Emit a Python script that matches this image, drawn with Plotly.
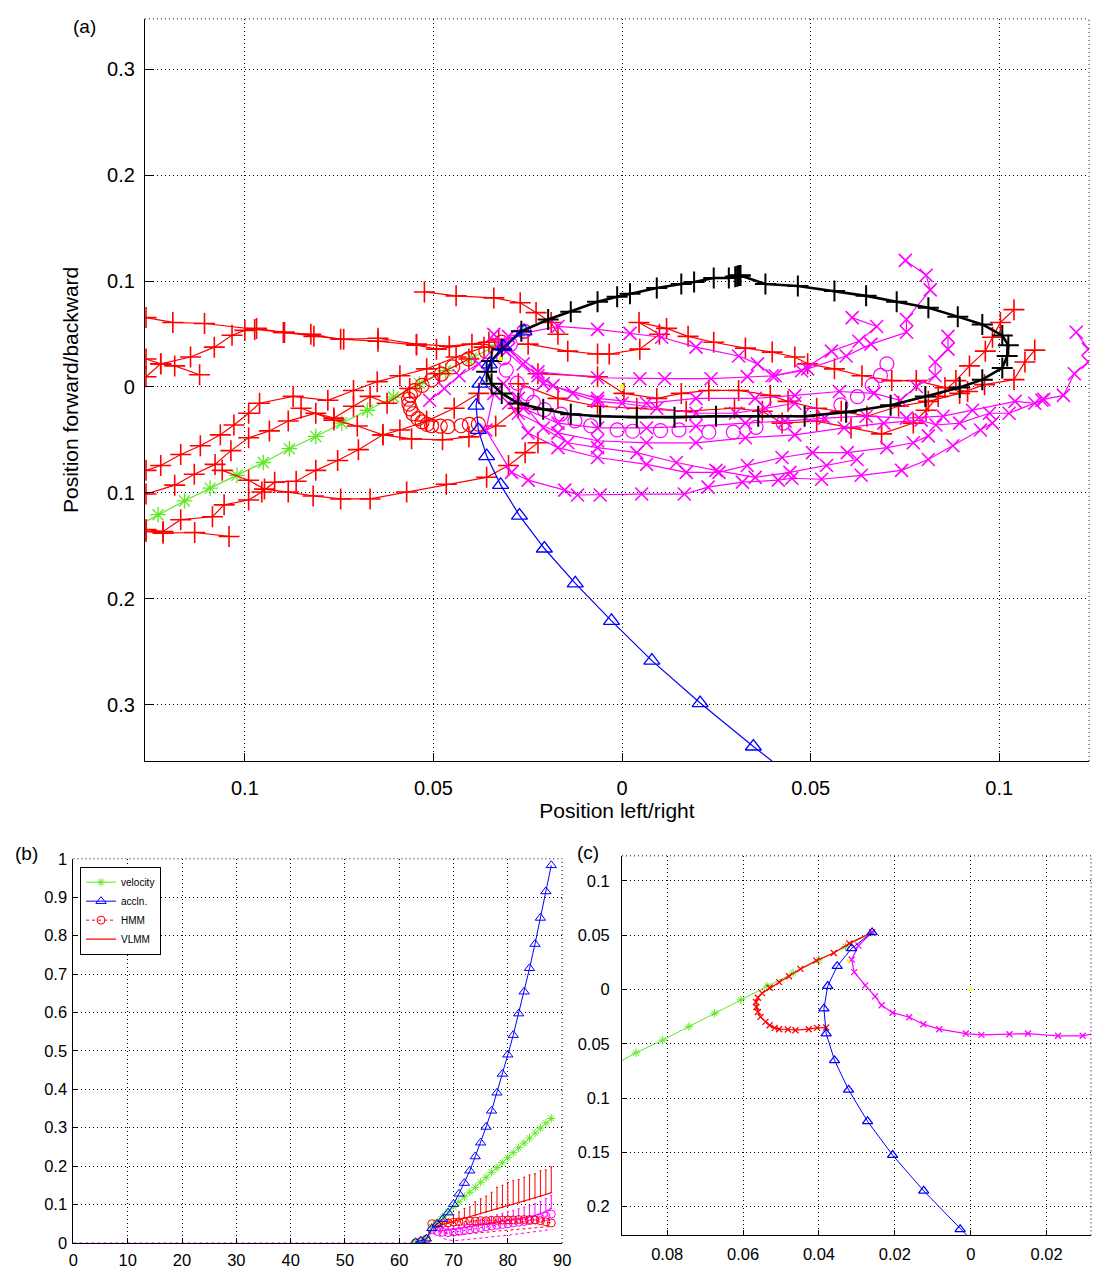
import plotly.graph_objects as go

# ---------------- shared trajectory data (panels a and c), data units ----------------
vel_x = [-0.1283, -0.1230, -0.1160, -0.1092, -0.1021, -0.0951, -0.0882, -0.0812, -0.0743,
         -0.0675, -0.0606, -0.0537, -0.0468, -0.0400, -0.0330, -0.0260]
vel_y = [-0.1309, -0.1206, -0.1076, -0.0955, -0.0834, -0.0713, -0.0583, -0.0467, -0.0342,
         -0.0220, -0.0095, 0.0031, 0.0153, 0.0272, 0.0394, 0.0525]

acc_x = [-0.0260, -0.0314, -0.0352, -0.0377, -0.0387, -0.0381, -0.0359, -0.0322, -0.0272,
         -0.0206, -0.0124, -0.0028, 0.0079, 0.0207, 0.0348, 0.0505]
acc_y = [0.0525, 0.0378, 0.0214, 0.0031, -0.0177, -0.0406, -0.0653, -0.0924, -0.1214,
         -0.1525, -0.1854, -0.2208, -0.2584, -0.2984, -0.3394, -0.3830]

hmm_x = [-0.0260, -0.0320, -0.0361, -0.0407, -0.0449, -0.0479, -0.0505, -0.0530, -0.0550,
         -0.0561, -0.0566, -0.0565, -0.0561, -0.0554, -0.0541, -0.0530, -0.0517, -0.0505,
         -0.0482, -0.0462, -0.0427, -0.0405, -0.0381]
hmm_y = [0.0525, 0.0424, 0.0336, 0.0265, 0.0189, 0.0122, 0.0067, 0.0015, -0.0034,
         -0.0076, -0.0116, -0.0162, -0.0207, -0.0253, -0.0299, -0.0329, -0.0354, -0.0366,
         -0.0369, -0.0375, -0.0366, -0.0354, -0.0351]

mag_x = [-0.0260, -0.0296, -0.0314, -0.0307, -0.0278, -0.0252, -0.0235, -0.0206, -0.0162,
         -0.0125, -0.0083, -0.0013, 0.0028, 0.0102, 0.0151, 0.0230, 0.0295, 0.0355, 0.0427,
         0.0505, 0.0580, 0.0624, 0.0663, 0.0685, 0.0702]
mag_y = [0.0525, 0.0403, 0.0275, 0.0159, 0.0037, -0.0064, -0.0146, -0.0214, -0.0256,
         -0.0320, -0.0366, -0.0406, -0.0418, -0.0412, -0.0406, -0.0427, -0.0427, -0.0381,
         -0.0341, -0.0262, -0.0170, -0.0092, 0.0016, 0.0109, 0.0218]

yellow_x = [0.0, -0.0322]
yellow_y = [0.0, 0.0265]

# ---------------- panel (a) only ----------------
black_x = [0.0314, 0.0380, 0.0466, 0.0563, 0.0647, 0.0728, 0.0812, 0.0890, 0.0955, 0.1008,
           0.1024, 0.1021, 0.1008, 0.0955, 0.0895, 0.0804, 0.0712, 0.0594, 0.0484, 0.0361,
           0.0249, 0.0139, 0.0039, -0.0058, -0.0136, -0.0209, -0.0275, -0.0319, -0.0346,
           -0.0359, -0.0346, -0.0319, -0.0267, -0.0196, -0.0136, -0.0065, -0.0013, 0.0021,
           0.0092, 0.0157, 0.0191, 0.0243, 0.0283, 0.0300, 0.0305, 0.0309, 0.0312]
black_y = [0.1052, 0.0972, 0.0953, 0.0906, 0.0860, 0.0804, 0.0748, 0.0664, 0.0590, 0.0487,
           0.0394, 0.0292, 0.0180, 0.0069, -0.0006, -0.0089, -0.0173, -0.0238, -0.0276,
           -0.0276, -0.0276, -0.0285, -0.0285, -0.0276, -0.0257, -0.0210, -0.0155, -0.0061,
           0.0031, 0.0143, 0.0246, 0.0357, 0.0525, 0.0637, 0.0711, 0.0804, 0.0851, 0.0879,
           0.0935, 0.0972, 0.0990, 0.1028, 0.1028, 0.1040, 0.1045, 0.1050, 0.1052]

red_lines_x = [
    [-0.1262, -0.1191, -0.1107, -0.0974, -0.0895, -0.0817, -0.0738, -0.0647, -0.0545, -0.0492, -0.0398, -0.0327],
    [-0.1262, -0.1223, -0.1144, -0.1081, -0.1034, -0.1000, -0.0969, -0.0898, -0.0825, -0.0746, -0.0647, -0.0545, -0.0458, -0.0353],
    [-0.1262, -0.1223, -0.1186, -0.1120],
    [-0.1262, -0.1223, -0.1170, -0.1118, -0.1065, -0.1029, -0.0990, -0.0961, -0.0872, -0.0780, -0.0712, -0.0649, -0.0589, -0.0518, -0.0440, -0.0366],
    [-0.1262, -0.1186, -0.1134, -0.1079, -0.1037, -0.0990, -0.0935, -0.0885, -0.0812, -0.0764, -0.0712, -0.0668, -0.0623, -0.0563, -0.0484, -0.0406],
    [-0.1262, -0.1217, -0.1170, -0.1086, -0.1055, -0.0990, -0.0955, -0.0921, -0.0864, -0.0812, -0.0754, -0.0699, -0.0634, -0.0589, -0.0518, -0.0445, -0.0380],
    [-0.1262, -0.1217, -0.1133, -0.1042],
    [-0.1060, -0.0990, -0.0948, -0.0885, -0.0819, -0.0746, -0.0668, -0.0571, -0.0466, -0.0359, -0.0301, -0.0257, -0.0223],
    [-0.0851, -0.0764, -0.0702, -0.0634, -0.0558, -0.0476, -0.0406, -0.0335, -0.0275],
    [-0.0524, -0.0440, -0.0340, -0.0270, -0.0228, -0.0188, -0.0170],
    [-0.0249, -0.0144, -0.0065, -0.0034, 0.0047, 0.0099, 0.0045, 0.0118, 0.0175, 0.0243, 0.0327, 0.0398, 0.0458, 0.0492, 0.0563, 0.0636, 0.0715, 0.0780, 0.0856, 0.0916],
    [-0.0275, -0.0170, -0.0065, 0.0039, 0.0170, 0.0298, 0.0372, 0.0424, 0.0516, 0.0607, 0.0688, 0.0772, 0.0806, 0.0838, 0.0885, 0.0921, 0.0963, 0.0982, 0.1003, 0.1039],
    [-0.0223, -0.0065, 0.0005, 0.0092, 0.0157, 0.0230, 0.0309, 0.0393, 0.0440, 0.0516, 0.0581, 0.0649, 0.0733, 0.0812, 0.0895, 0.0961, 0.1039, 0.1068, 0.1094],
]
red_lines_y = [
    [0.0655, 0.0609, 0.0599, 0.0543, 0.0515, 0.0478, 0.0450, 0.0432, 0.0395, 0.0357, 0.0404, 0.0450],
    [0.0097, 0.0218, 0.0283, 0.0376, 0.0488, 0.0534, 0.0553, 0.0515, 0.0497, 0.0450, 0.0460, 0.0404, 0.0385, 0.0422],
    [0.0264, 0.0218, 0.0199, 0.0115],
    [-0.0787, -0.0741, -0.0638, -0.0555, -0.0452, -0.0359, -0.0248, -0.0154, -0.0089, -0.0126, -0.0033, 0.0050, 0.0106, 0.0171, 0.0283, 0.0376],
    [-0.1011, -0.0927, -0.0824, -0.0731, -0.0601, -0.0480, -0.0415, -0.0322, -0.0248, -0.0294, -0.0182, -0.0089, -0.0154, -0.0015, 0.0125, 0.0264],
    [-0.1346, -0.1364, -0.1253, -0.1225, -0.1113, -0.1067, -0.0992, -0.0899, -0.0890, -0.0787, -0.0694, -0.0592, -0.0452, -0.0406, -0.0322, -0.0201, -0.0061],
    [-0.1364, -0.1380, -0.1374, -0.1411],
    [-0.0787, -0.0880, -0.0964, -0.0992, -0.1029, -0.1057, -0.1057, -0.0992, -0.0918, -0.0853, -0.0741, -0.0620, -0.0527],
    [-0.0201, -0.0313, -0.0369, -0.0452, -0.0490, -0.0499, -0.0471, -0.0369, -0.0201],
    [0.0897, 0.0860, 0.0841, 0.0795, 0.0702, 0.0609, 0.0497],
    [0.0404, 0.0338, 0.0311, 0.0311, 0.0357, 0.0497, 0.0609, 0.0553, 0.0478, 0.0422, 0.0367, 0.0329, 0.0283, 0.0218, 0.0171, 0.0106, 0.0060, 0.0060, -0.0006, -0.0043],
    [0.0031, -0.0108, -0.0182, -0.0201, -0.0229, -0.0201, -0.0229, -0.0341, -0.0322, -0.0387, -0.0443, -0.0341, -0.0220, -0.0089, 0.0060, 0.0199, 0.0338, 0.0469, 0.0609, 0.0730],
    [0.0125, 0.0097, -0.0061, -0.0108, -0.0061, -0.0033, -0.0033, -0.0080, -0.0136, -0.0201, -0.0229, -0.0276, -0.0182, -0.0136, -0.0061, 0.0022, 0.0069, 0.0236, 0.0348],
]

mag_lines_x = [
    [-0.0301, -0.0170, -0.0065, 0.0021, 0.0105, 0.0196, 0.0309, 0.0359, 0.0398, 0.0492, 0.0594, 0.0660, 0.0754, 0.0754, 0.0817, 0.0806, 0.0751],
    [-0.0314, -0.0223, -0.0065, 0.0047, 0.0113, 0.0236, 0.0332, 0.0406, 0.0476, 0.0555, 0.0628, 0.0675, 0.0610],
    [-0.0314, -0.0209, -0.0065, 0.0065, 0.0196, 0.0353, 0.0458, 0.0576, 0.0668, 0.0738, 0.0780, 0.0830, 0.0830, 0.0864, 0.0864],
    [0.1204, 0.1236, 0.1264, 0.1236, 0.1199, 0.1170, 0.1118, 0.1094, 0.1042, 0.0929, 0.0851, 0.0754, 0.0647, 0.0537, 0.0432, 0.0327, 0.0196, 0.0065, -0.0065, -0.0170, -0.0262, -0.0314],
    [0.1113, 0.1026, 0.0974, 0.0895, 0.0832, 0.0793, 0.0694, 0.0589, 0.0458, 0.0327, 0.0196, 0.0065, -0.0065, -0.0170, -0.0275],
    [0.0982, 0.0950, 0.0877, 0.0812, 0.0741, 0.0634, 0.0529, 0.0450, 0.0414, 0.0319, 0.0228, 0.0165, 0.0052, -0.0058, -0.0118, -0.0152, -0.0249, -0.0293, -0.0361, -0.0340],
    [0.0812, 0.0772, 0.0702, 0.0597, 0.0505, 0.0424, 0.0332, 0.0257, 0.0170, 0.0065, -0.0065, -0.0170, -0.0249, -0.0301],
    [0.0623, 0.0542, 0.0445, 0.0353, 0.0249, 0.0144, 0.0039, -0.0065, -0.0144, -0.0209, -0.0275],
    [-0.0327, -0.0380, -0.0432, -0.0471, -0.0510],
    [-0.0340, -0.0301, -0.0262, -0.0223, -0.0183, -0.0131, -0.0065, 0.0000, 0.0092, 0.0196, 0.0301, 0.0380, 0.0458],
]
mag_lines_y = [
    [0.0478, 0.0571, 0.0543, 0.0506, 0.0469, 0.0376, 0.0292, 0.0218, 0.0106, 0.0171, 0.0292, 0.0404, 0.0516, 0.0637, 0.0916, 0.1055, 0.1195],
    [0.0404, 0.0143, 0.0087, 0.0078, 0.0078, 0.0078, 0.0097, 0.0106, 0.0153, 0.0338, 0.0432, 0.0571, 0.0655],
    [0.0357, 0.0031, -0.0108, -0.0154, -0.0108, -0.0108, -0.0080, -0.0043, -0.0061, -0.0126, 0.0004, 0.0106, 0.0236, 0.0357, 0.0478],
    [0.0516, 0.0357, 0.0292, 0.0236, 0.0125, -0.0080, -0.0117, -0.0154, -0.0136, -0.0220, -0.0276, -0.0294, -0.0276, -0.0294, -0.0322, -0.0341, -0.0369, -0.0387, -0.0387, -0.0341, -0.0201, 0.0031],
    [-0.0126, -0.0248, -0.0248, -0.0341, -0.0359, -0.0313, -0.0341, -0.0387, -0.0452, -0.0480, -0.0527, -0.0527, -0.0508, -0.0434, -0.0248],
    [-0.0341, -0.0406, -0.0555, -0.0685, -0.0787, -0.0834, -0.0871, -0.0862, -0.0880, -0.0899, -0.0946, -0.1011, -0.1011, -0.1020, -0.1020, -0.0974, -0.0880, -0.0806, -0.0406, -0.0061],
    [-0.0462, -0.0527, -0.0573, -0.0620, -0.0620, -0.0666, -0.0741, -0.0806, -0.0806, -0.0731, -0.0666, -0.0573, -0.0434, -0.0154],
    [-0.0685, -0.0741, -0.0806, -0.0853, -0.0787, -0.0713, -0.0620, -0.0573, -0.0527, -0.0387, -0.0108],
    [0.0404, 0.0218, 0.0106, -0.0015, -0.0126],
    [0.0497, 0.0357, 0.0218, 0.0106, 0.0013, -0.0061, -0.0136, -0.0154, -0.0201, -0.0248, -0.0248, -0.0201, -0.0154],
]

# ---------------- panel (b) ----------------
b_t = [63, 64, 65, 66, 67, 68, 69, 70, 71, 72, 73, 74, 75, 76, 77, 78, 79, 80, 81, 82, 83, 84, 85, 86, 87, 88]
b_velocity = [0.002, 0.005, 0.012, 0.042, 0.055, 0.068, 0.081, 0.094, 0.107, 0.120, 0.132, 0.145, 0.158,
              0.171, 0.184, 0.196, 0.209, 0.222, 0.235, 0.248, 0.260, 0.273, 0.286, 0.299, 0.312, 0.324]
b_accln = [0.002, 0.006, 0.011, 0.038, 0.049, 0.062, 0.079, 0.101, 0.128, 0.156, 0.188, 0.225, 0.261,
           0.302, 0.344, 0.391, 0.440, 0.490, 0.541, 0.597, 0.654, 0.715, 0.778, 0.846, 0.915, 0.983]
b_hmm = [0.000, 0.004, 0.010, 0.050, 0.050, 0.051, 0.052, 0.054, 0.055, 0.056, 0.057, 0.057, 0.058,
         0.058, 0.059, 0.059, 0.060, 0.060, 0.060, 0.061, 0.061, 0.061, 0.060, 0.058, 0.055, 0.052]
b_vlmm = [0.000, 0.004, 0.010, 0.040, 0.045, 0.048, 0.052, 0.056, 0.060, 0.064, 0.068, 0.072, 0.076,
          0.080, 0.084, 0.088, 0.092, 0.096, 0.100, 0.104, 0.108, 0.112, 0.117, 0.121, 0.126, 0.131]
b_vlmm_upper = [0.000, 0.004, 0.010, 0.045, 0.050, 0.055, 0.062, 0.073, 0.081, 0.090, 0.094, 0.107, 0.115,
                0.122, 0.132, 0.145, 0.150, 0.158, 0.162, 0.165, 0.171, 0.177, 0.180, 0.188, 0.190, 0.198]
b_vlmm_lower = [0.000, 0.004, 0.010, 0.035, 0.030, 0.027, 0.024, 0.022, 0.022, 0.023, 0.024, 0.025, 0.026,
                0.028, 0.029, 0.031, 0.032, 0.034, 0.035, 0.036, 0.038, 0.039, 0.040, 0.041, 0.042, 0.043]
b_mag_hmm = [0.000, 0.003, 0.008, 0.035, 0.030, 0.028, 0.027, 0.028, 0.030, 0.032, 0.034, 0.037, 0.040,
             0.042, 0.044, 0.046, 0.048, 0.050, 0.052, 0.054, 0.056, 0.058, 0.060, 0.064, 0.069, 0.075]
b_mag_vlmm = [0.000, 0.003, 0.008, 0.040, 0.033, 0.032, 0.033, 0.035, 0.037, 0.040, 0.042, 0.045, 0.047,
              0.049, 0.051, 0.053, 0.056, 0.058, 0.061, 0.063, 0.066, 0.068, 0.072, 0.076, 0.082, 0.090]
b_mag_upper = [0.000, 0.003, 0.008, 0.045, 0.040, 0.040, 0.042, 0.045, 0.048, 0.052, 0.055, 0.058, 0.062,
               0.065, 0.069, 0.073, 0.077, 0.081, 0.085, 0.089, 0.093, 0.097, 0.102, 0.108, 0.115, 0.124]
b_mag_lower = [0.000, 0.002, 0.005, 0.030, 0.020, 0.012, 0.008, 0.006, 0.007, 0.008, 0.010, 0.011, 0.012,
               0.014, 0.016, 0.017, 0.019, 0.020, 0.022, 0.024, 0.026, 0.027, 0.029, 0.031, 0.033, 0.035]
b_base_t = [0, 63]
b_base_y = [0, 0]

# tick labels
a_xticks = [-0.1, -0.05, 0, 0.05, 0.1]
a_xtext = ["0.1", "0.05", "0", "0.05", "0.1"]
a_yticks = [-0.3, -0.2, -0.1, 0, 0.1, 0.2, 0.3]
a_ytext = ["0.3", "0.2", "0.1", "0", "0.1", "0.2", "0.3"]
b_xticks = [0, 10, 20, 30, 40, 50, 60, 70, 80, 90]
b_yticks = [0, 0.1, 0.2, 0.3, 0.4, 0.5, 0.6, 0.7, 0.8, 0.9, 1]
b_ytext = ["0", "0.1", "0.2", "0.3", "0.4", "0.5", "0.6", "0.7", "0.8", "0.9", "1"]
c_xticks = [-0.08, -0.06, -0.04, -0.02, 0, 0.02]
c_xtext = ["0.08", "0.06", "0.04", "0.02", "0", "0.02"]
c_yticks = [-0.2, -0.15, -0.1, -0.05, 0, 0.05, 0.1]
c_ytext = ["0.2", "0.15", "0.1", "0.05", "0", "0.05", "0.1"]

RED = "#ff0000"
MAG = "#ff00ff"
BLUE = "#0000ff"
GREEN = "#5ee824"
YEL = "#ffff00"
FONT = "Liberation Sans, Arial, Helvetica, sans-serif"

fig = go.Figure()


def line_trace(x, y, color, symbol, size, lw, mlw, xa, ya, name=None, legend=False, dash="solid", mode="lines+markers"):
    return go.Scatter(
        x=x, y=y, mode=mode, xaxis=xa, yaxis=ya, name=name, showlegend=legend,
        line=dict(color=color, width=lw, dash=dash),
        marker=dict(symbol=symbol, size=size, color=color, line=dict(color=color, width=mlw)),
        hoverinfo="skip",
    )


# ---- panel (a) ----
fig.add_trace(line_trace(vel_x, vel_y, GREEN, "asterisk-open", 13, 1.2, 1.3, "x", "y"))
for xs, ys in zip(red_lines_x, red_lines_y):
    fig.add_trace(line_trace(xs, ys, RED, "cross-thin-open", 15, 1.2, 1.6, "x", "y"))
fig.add_trace(line_trace(hmm_x, hmm_y, RED, "circle-open", 14, 1, 1.2, "x", "y", mode="markers"))
for xs, ys in zip(mag_lines_x, mag_lines_y):
    fig.add_trace(line_trace(xs, ys, MAG, "x-thin-open", 13, 1.2, 1.6, "x", "y"))
fig.add_trace(line_trace(mag_x, mag_y, MAG, "circle-open", 14, 1, 1.2, "x", "y", mode="markers"))
fig.add_trace(line_trace(black_x, black_y, "black", "cross-thin-open", 15, 2.6, 2.0, "x", "y"))
fig.add_trace(line_trace(acc_x, acc_y, BLUE, "triangle-up-open", 14, 1.2, 1.3, "x", "y"))
fig.add_trace(line_trace(yellow_x, yellow_y, YEL, "square", 4, 1, 0, "x", "y", mode="markers"))

# ---- panel (b) ----
fig.add_trace(line_trace(b_base_t, b_base_y, MAG, "circle", 1, 1, 0, "x2", "y2", dash="dot", mode="lines"))
fig.add_trace(line_trace(b_t, b_vlmm_lower, RED, "circle", 1, 1, 0, "x2", "y2", dash="dot", mode="lines"))
fig.add_trace(line_trace(b_t, b_mag_lower, MAG, "circle", 1, 1, 0, "x2", "y2", dash="dot", mode="lines"))
fig.add_trace(go.Scatter(
    x=b_t, y=b_vlmm, mode="lines", xaxis="x2", yaxis="y2", name="VLMM", showlegend=False,
    line=dict(color=RED, width=1.2),
    error_y=dict(type="data", symmetric=False, array=[u - m for u, m in zip(b_vlmm_upper, b_vlmm)],
                 arrayminus=[0] * len(b_t), color=RED, thickness=1, width=1),
    hoverinfo="skip"))
fig.add_trace(go.Scatter(
    x=b_t, y=b_mag_vlmm, mode="lines", xaxis="x2", yaxis="y2", showlegend=False,
    line=dict(color=MAG, width=1.2),
    error_y=dict(type="data", symmetric=False, array=[u - m for u, m in zip(b_mag_upper, b_mag_vlmm)],
                 arrayminus=[0] * len(b_t), color=MAG, thickness=1, width=1),
    hoverinfo="skip"))
fig.add_trace(line_trace(b_t, b_mag_hmm, MAG, "circle-open", 8, 1, 1, "x2", "y2", dash="dot"))
fig.add_trace(line_trace(b_t, b_hmm, RED, "circle-open", 8, 1, 1, "x2", "y2", dash="dot"))
fig.add_trace(line_trace(b_t, b_velocity, GREEN, "asterisk-open", 7, 1, 1, "x2", "y2", name="velocity", legend=True))
fig.add_trace(line_trace(b_t, b_accln, BLUE, "triangle-up-open", 9, 1, 1, "x2", "y2", name="accln.", legend=True))
fig.add_trace(line_trace([None], [None], RED, "circle-open", 8, 1, 1, "x2", "y2", name="HMM", legend=True, dash="dot"))
fig.add_trace(line_trace([None], [None], RED, "circle", 1, 1.2, 0, "x2", "y2", name="VLMM", legend=True, mode="lines"))

# ---- panel (c) ----
fig.add_trace(line_trace(vel_x, vel_y, GREEN, "asterisk-open", 7, 1, 1, "x3", "y3"))
fig.add_trace(line_trace(hmm_x, hmm_y, RED, "x-thin-open", 6, 1.2, 1.3, "x3", "y3"))
fig.add_trace(line_trace(mag_x, mag_y, MAG, "x-thin-open", 6, 1.2, 1.3, "x3", "y3"))
fig.add_trace(line_trace(acc_x, acc_y, BLUE, "triangle-up-open", 9, 1, 1.2, "x3", "y3"))
fig.add_trace(line_trace(yellow_x, yellow_y, YEL, "square", 3, 1, 0, "x3", "y3", mode="markers"))


def ax(domain, rng, tickvals, ticktext, size, anchor, standoff, ticklen):
    return dict(domain=domain, range=rng, anchor=anchor, tickmode="array", tickvals=tickvals,
                ticktext=ticktext, showline=True, linecolor="black", linewidth=1, mirror=False,
                ticks="inside", ticklen=ticklen, tickcolor="black", tickwidth=1,
                showgrid=True, gridcolor="black", gridwidth=1, griddash="1px,3px",
                zeroline=False, tickfont=dict(size=size, color="black", family=FONT),
                ticklabelstandoff=standoff, layer="above traces")


W, H = 1102, 1270
layout = dict(
    width=W, height=H, autosize=False, margin=dict(l=0, r=0, t=0, b=0, pad=0),
    paper_bgcolor="white", plot_bgcolor="white",
    font=dict(family=FONT, color="black"),
    xaxis=ax([141.7 / W, 1098 / W], [-0.1265, 0.1238], a_xticks, a_xtext, 20, "y", 9, 8),
    yaxis=ax([1 - 762.7 / H, 1 - 10 / H], [-0.353, 0.3475], a_yticks, a_ytext, 20, "x", 5, 8),
    xaxis2=ax([69.3 / W, 564.3 / W], [0, 90], b_xticks, [str(v) for v in b_xticks], 16.5, "y2", 2, 5),
    yaxis2=ax([1 - 1251.7 / H, 1 - 862 / H], [0, 1], b_yticks, b_ytext, 16.5, "x2", 2, 5),
    xaxis3=ax([625 / W, 1100 / W], [-0.0919, 0.0317], c_xticks, c_xtext, 16.5, "y3", 4, 5),
    yaxis3=ax([1 - 1244 / H, 1 - 859 / H], [-0.2264, 0.123], c_yticks, c_ytext, 16.5, "x3", 8, 5),
    showlegend=True,
    legend=dict(x=76 / W, y=1 - 870 / H, xanchor="left", yanchor="top", bgcolor="white",
                bordercolor="black", borderwidth=1, font=dict(size=10, family=FONT),
                tracegroupgap=0, itemwidth=30),
)
layout["xaxis"]["title"] = dict(text="Position left/right", font=dict(size=21, family=FONT), standoff=5)
layout["yaxis"]["title"] = dict(text="Position forward/backward", font=dict(size=21, family=FONT), standoff=22)
fig.update_layout(**layout)

# dotted top/right borders of each axes box
shapes = []
for xa, ya in [("x", "y"), ("x2", "y2"), ("x3", "y3")]:
    shapes.append(dict(type="line", xref=f"{xa} domain", yref=f"{ya} domain", x0=0, x1=1, y0=1, y1=1,
                       line=dict(color="black", width=1, dash="1px,3px")))
    shapes.append(dict(type="line", xref=f"{xa} domain", yref=f"{ya} domain", x0=1, x1=1, y0=0, y1=1,
                       line=dict(color="black", width=1, dash="1px,3px")))
fig.update_layout(shapes=shapes)

for txt, px, py in [("(a)", 81, 18), ("(b)", 22, 857), ("(c)", 590, 856)]:
    fig.add_annotation(text=txt, x=px / W, y=1 - py / H, xref="paper", yref="paper",
                       xanchor="center", yanchor="middle",
                       showarrow=False, font=dict(size=19, family=FONT, color="black"))

fig.write_html(
    "out.html",
    config={"displayModeBar": False},
    post_script="document.body.style.margin='0';document.body.style.overflow='hidden';"
                "document.documentElement.style.overflow='hidden';",
)
